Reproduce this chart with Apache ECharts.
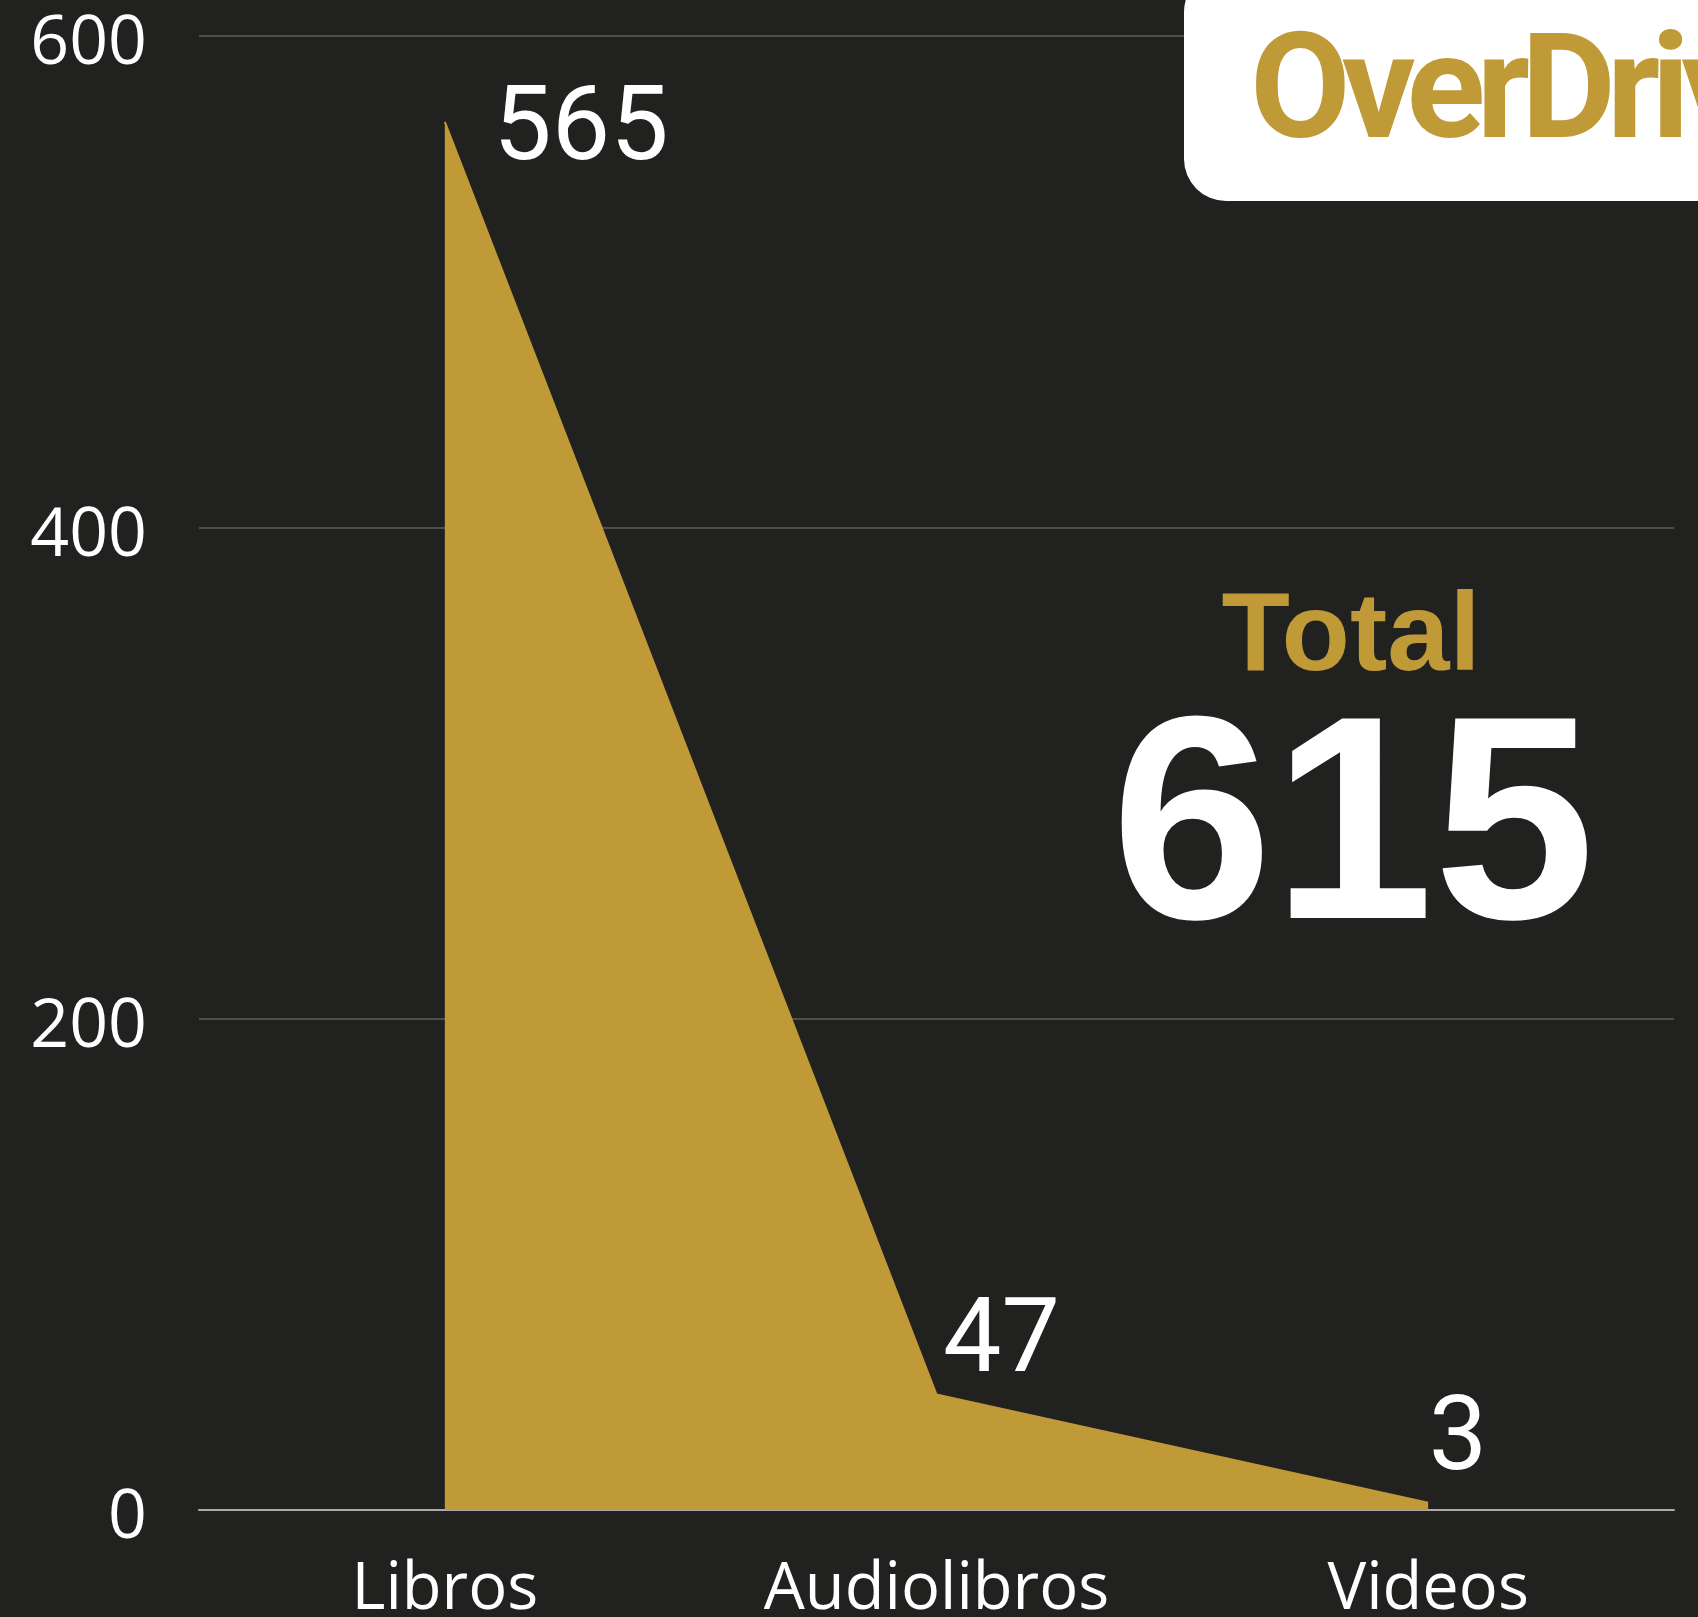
<!DOCTYPE html>
<html><head><meta charset="utf-8">
<script src="https://cdn.jsdelivr.net/npm/echarts@6/dist/echarts.min.js"></script>
<style>html,body{margin:0;padding:0;background:#212120;}#c{width:1698px;height:1617px;}</style>
</head><body><div id="c"></div>
<script>
const categories = ['Libros', 'Audiolibros', 'Videos'];
const values = [565, 47, 3];
const totalTitle = 'Total';
const totalValue = 615;
const logoText = 'OverDrive';
const yTicks = [0, 200, 400, 600];

const labelPlacement = [
  {distance: 48, offset: [0, 11]},
  {distance: 6, offset: [0, -50]},
  {distance: 0, offset: [0, -60]}
];
const seriesData = values.map((v, i) => ({
  value: v,
  label: {distance: labelPlacement[i].distance, offset: labelPlacement[i].offset}
}));

// logo letters laid out with tight tracking (measured, not hard-coded)
const logoFont = 'bold 146px Roboto';
const mctx = document.createElement('canvas').getContext('2d');
mctx.font = logoFont;
const logoLetters = [];
let lx = 0;
for (const ch of logoText) {
  logoLetters.push({type: 'text', x: lx, y: 0, z: 101, style: {text: ch, fill: '#c19a38', font: logoFont}});
  lx += mctx.measureText(ch).width - 9;
}

const chart = echarts.init(document.getElementById('c'));
chart.setOption({
  backgroundColor: '#212120',
  animation: false,
  grid: {left: 199, right: 24, top: 36, bottom: 107, containLabel: false, outerBoundsMode: 'none'},
  xAxis: {
    type: 'category', data: categories, boundaryGap: true,
    axisLine: {show: true, lineStyle: {color: '#aaaaaa', width: 2}},
    axisTick: {show: false},
    axisLabel: {color: '#ffffff', fontSize: 65, fontFamily: 'Open Sans', margin: 48}
  },
  yAxis: {
    type: 'value', min: yTicks[0], max: yTicks[yTicks.length - 1], interval: yTicks[1] - yTicks[0],
    axisLine: {show: false}, axisTick: {show: false},
    splitLine: {lineStyle: {color: '#5e5e5c', width: 1.5}},
    axisLabel: {color: '#ffffff', fontSize: 68, fontFamily: 'Open Sans', margin: 52, verticalAlign: 'top', lineHeight: 18}
  },
  series: [{
    type: 'line', data: seriesData,
    symbol: 'circle', symbolSize: 1, showSymbol: true,
    itemStyle: {color: 'rgba(0,0,0,0)'},
    lineStyle: {color: '#c19a38', width: 2},
    areaStyle: {color: '#c19a38', opacity: 1},
    label: {show: true, position: 'right', color: '#ffffff', fontSize: 104, fontFamily: 'Roboto'}
  }],
  graphic: [
    {type: 'rect', left: 1184, top: -30, z: 100,
     shape: {width: 600, height: 231, r: 42}, style: {fill: '#ffffff'}},
    {type: 'group', x: 1250, y: 27, z: 101, children: logoLetters},
    {type: 'text', x: 1351, y: 639, z: 101,
     style: {text: totalTitle, fill: '#c19a38', font: 'bold 112px "Liberation Sans"', align: 'center', verticalAlign: 'middle'}},
    {type: 'text', x: 1353, y: 838, z: 101,
     style: {text: String(totalValue), fill: '#ffffff', font: 'bold 290px "Liberation Sans"', align: 'center', verticalAlign: 'middle'}}
  ]
});
</script></body></html>
